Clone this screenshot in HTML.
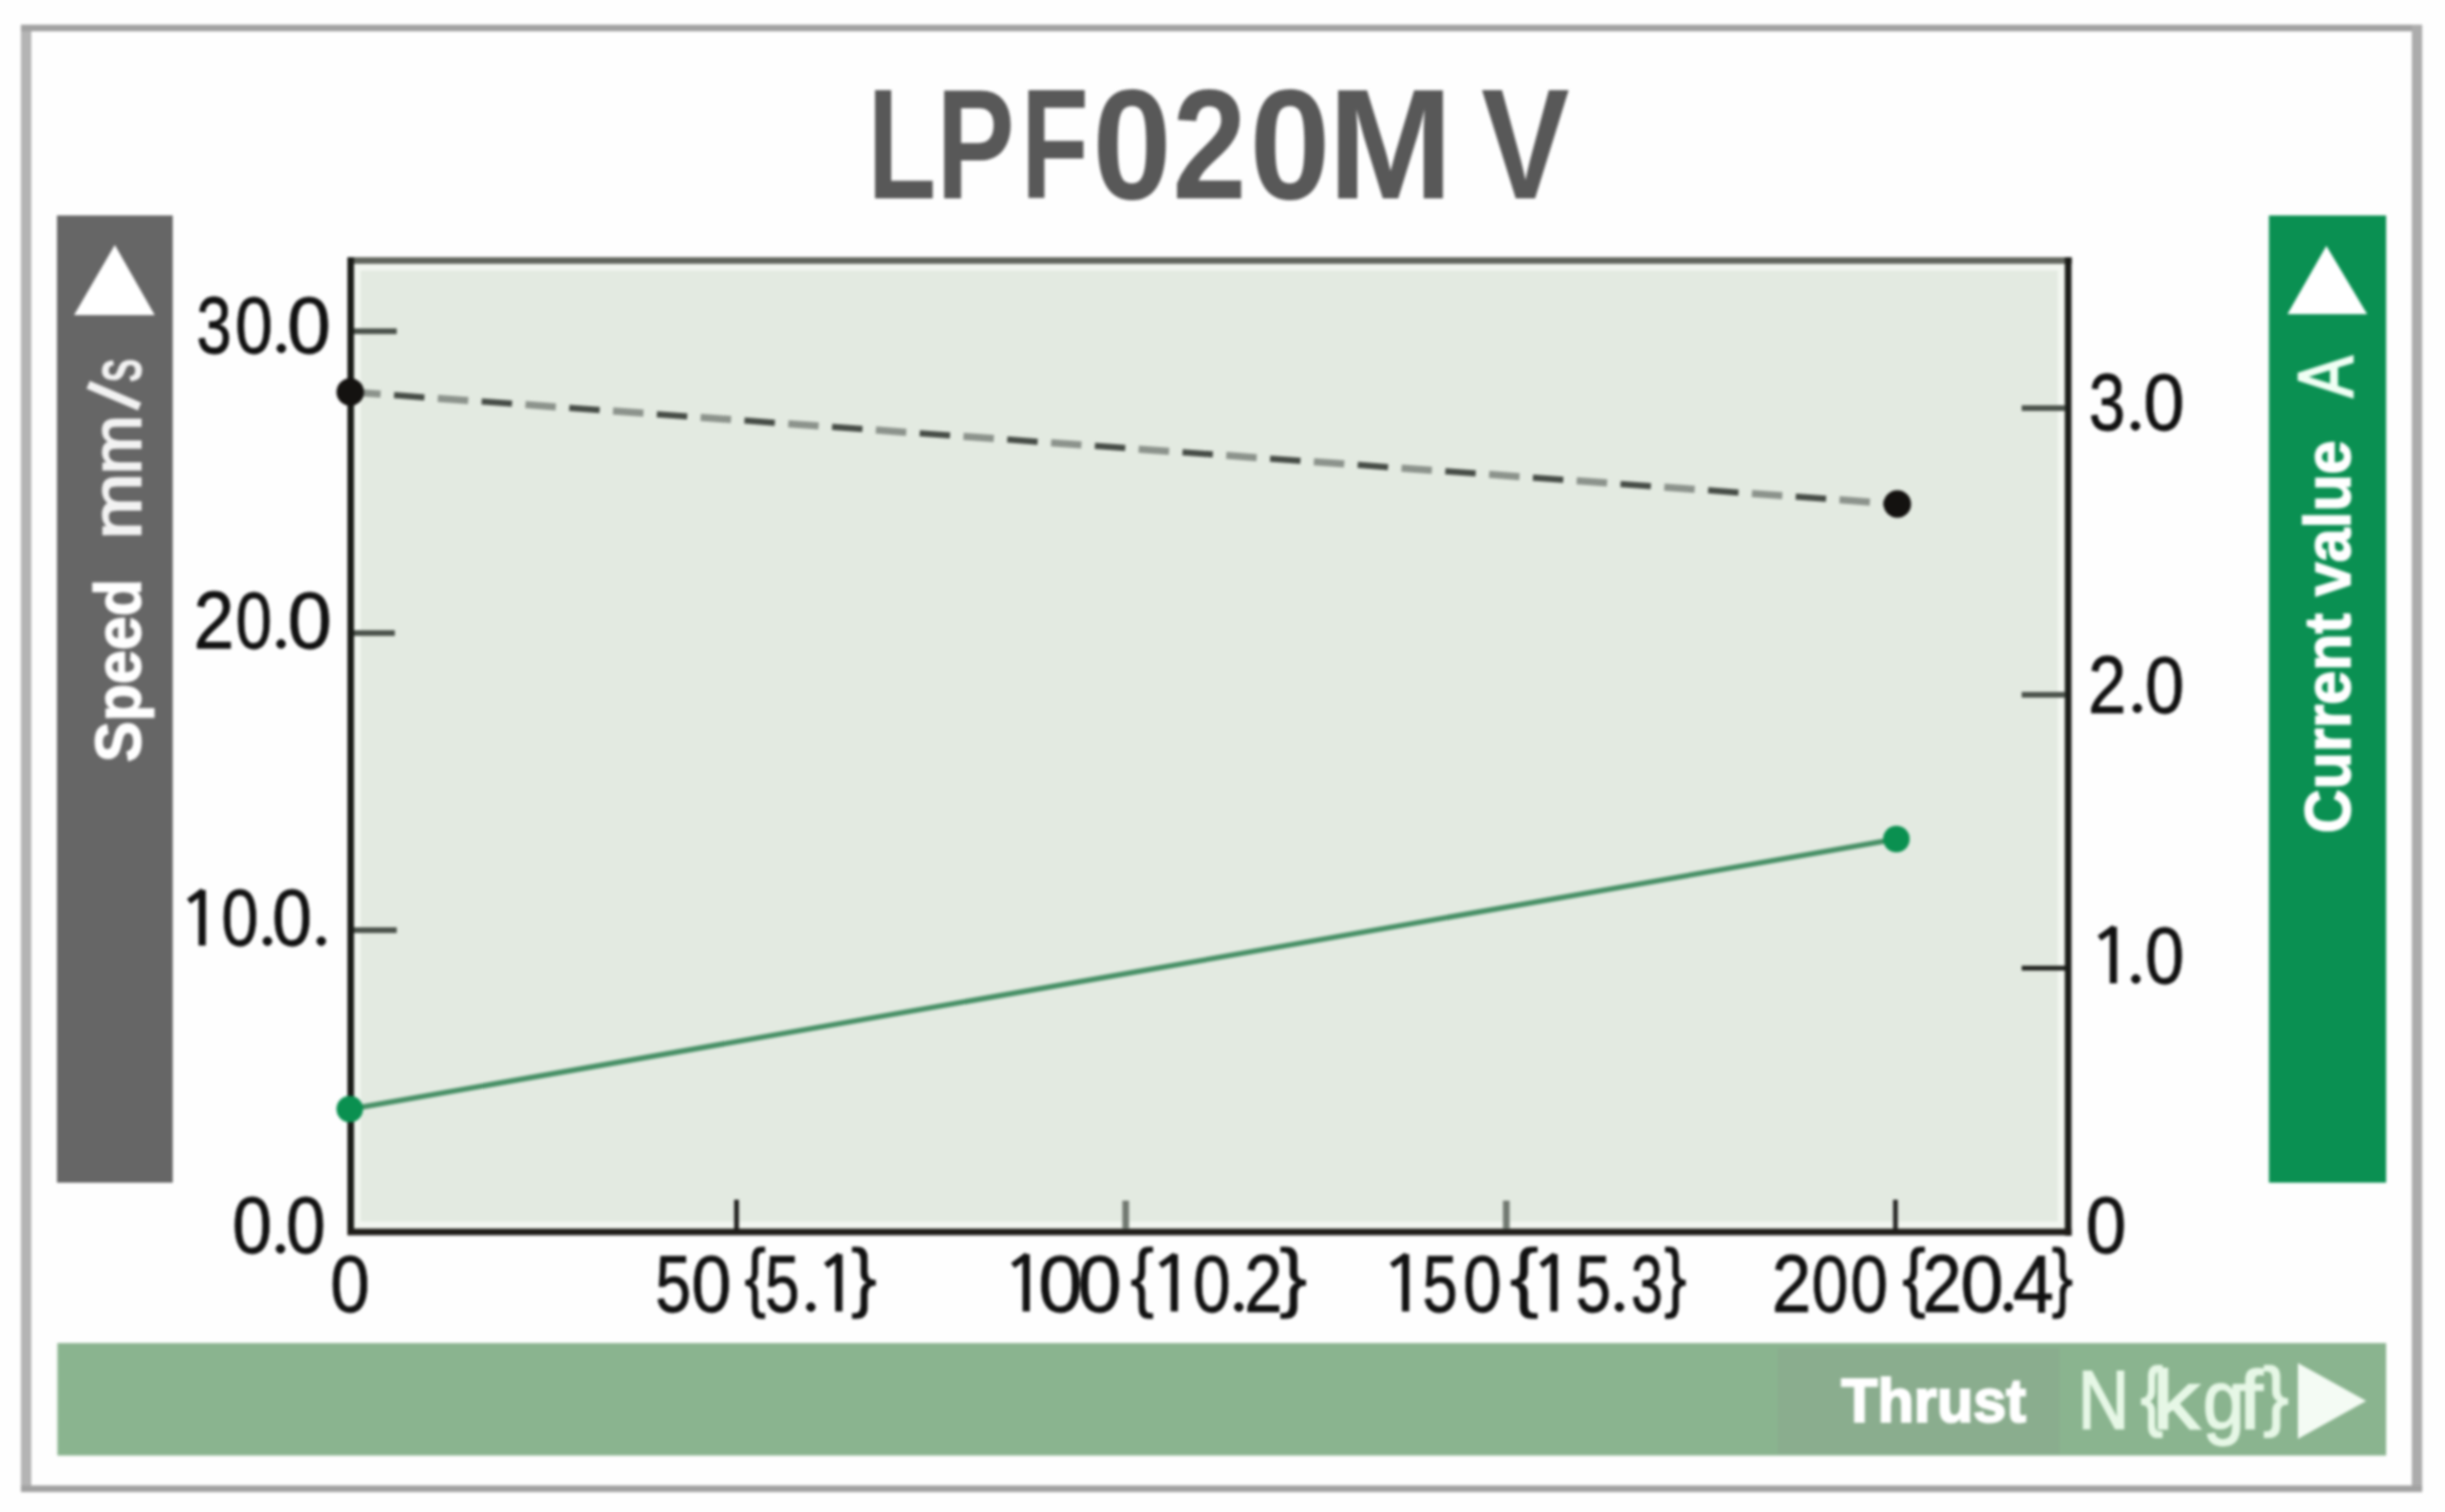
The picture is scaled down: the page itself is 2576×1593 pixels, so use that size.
<!DOCTYPE html>
<html><head><meta charset="utf-8">
<style>
html,body{margin:0;padding:0;background:#fefefe;width:2576px;height:1593px;overflow:hidden;}
svg{display:block;filter:blur(1.5px);}
text{font-family:"Liberation Sans",sans-serif;}
</style></head>
<body>
<svg width="2576" height="1593" viewBox="0 0 2576 1593">
<!-- outer border -->
<rect x="22" y="26" width="11" height="1546" fill="#b4b4b4"/>
<rect x="22" y="26" width="2530" height="7" fill="#a2a2a2"/>
<rect x="2541" y="26" width="11" height="1546" fill="#acacac"/>
<rect x="22" y="1565" width="2530" height="7" fill="#a2a2a2"/>

<!-- title -->
<g font-size="166" font-weight="bold" fill="#585858">
<text x="914.0" y="209.2" textLength="72.3" lengthAdjust="spacingAndGlyphs">L</text>
<text x="986.6" y="209.2" textLength="82.5" lengthAdjust="spacingAndGlyphs">P</text>
<text x="1075.7" y="209.2" textLength="71.3" lengthAdjust="spacingAndGlyphs">F</text>
<text x="1151.0" y="209.2" textLength="83.4" lengthAdjust="spacingAndGlyphs">0</text>
<text x="1235.3" y="209.2" textLength="78.0" lengthAdjust="spacingAndGlyphs">2</text>
<text x="1316.5" y="209.2" textLength="85.2" lengthAdjust="spacingAndGlyphs">0</text>
<text x="1399.3" y="209.2" textLength="131.5" lengthAdjust="spacingAndGlyphs">M</text>
<text x="1560.5" y="209.2" textLength="93.1" lengthAdjust="spacingAndGlyphs">V</text>
</g>

<!-- left bar -->
<rect x="60" y="227" width="122" height="1019" fill="#666666"/>
<polygon points="121,258 78,332 163,332" fill="#ffffff"/>
<!-- right bar -->
<rect x="2390.5" y="227" width="123.5" height="1019" fill="#0a9052"/>
<polygon points="2451,259 2410,331 2494,331" fill="#ffffff"/>

<!-- bottom bar -->
<rect x="60.5" y="1415" width="2453.5" height="118.5" fill="#8ab48f"/>
<rect x="1873" y="1420" width="297" height="112" fill="#8aad8e"/>

<!-- plot -->
<rect x="370" y="274" width="1809" height="1023" fill="#e3eae1"/>
<rect x="376.5" y="281.5" width="1795" height="1009" fill="none" stroke="#f2f6f0" stroke-width="7"/>
<rect x="366" y="271" width="1817" height="7" fill="#62665e"/>
<rect x="366" y="271" width="7" height="1030" fill="#1a1c18"/>
<rect x="2175.5" y="271" width="7" height="1031" fill="#1a1c18"/>
<rect x="366" y="1294.5" width="1816.5" height="7" fill="#1e1c18"/>

<!-- ticks -->
<g stroke="#4b524b" stroke-width="6">
<line x1="373" y1="349" x2="418" y2="349"/>
<line x1="373" y1="667" x2="416" y2="667"/>
<line x1="373" y1="980" x2="418" y2="980"/>
<line x1="2130" y1="430" x2="2176" y2="430"/>
<line x1="2130" y1="732" x2="2176" y2="732"/>
</g>
<line x1="2130" y1="1020" x2="2176" y2="1020" stroke="#1e201c" stroke-width="5"/>
<line x1="776" y1="1264" x2="776" y2="1295" stroke="#1e1e1c" stroke-width="5"/>
<line x1="1186" y1="1265" x2="1186" y2="1295" stroke="#717971" stroke-width="7"/>
<line x1="1587" y1="1265" x2="1587" y2="1295" stroke="#717971" stroke-width="7"/>
<line x1="1997" y1="1264" x2="1997" y2="1295" stroke="#262624" stroke-width="5"/>

<!-- dashed line -->
<line x1="369" y1="413" x2="1999" y2="531" stroke="#8c938c" stroke-width="7.5" stroke-dasharray="32.1 60.44"/>
<line x1="369" y1="413" x2="1999" y2="531" stroke="#464c46" stroke-width="6.5" stroke-dasharray="32.1 60.44" stroke-dashoffset="-46.27"/>
<circle cx="369" cy="413" r="14.5" fill="#141210"/>
<circle cx="1999" cy="531" r="14.5" fill="#141210"/>

<!-- green line -->
<line x1="369" y1="1168.5" x2="1998" y2="884" stroke="#468f65" stroke-width="5.5"/>
<circle cx="368.5" cy="1168.5" r="14" fill="#0a9050"/>
<circle cx="1998" cy="884" r="14" fill="#0a9050"/>

<!-- y labels -->
<g fill="#111111" stroke="#111111" stroke-width="0.9" font-size="86">
<text x="207.1" y="371.6" textLength="37.0" lengthAdjust="spacingAndGlyphs">3</text>
<text x="247.8" y="371.6" textLength="39.6" lengthAdjust="spacingAndGlyphs">0</text>
<circle cx="296.4" cy="367.0" r="4.6"/>
<text x="302.6" y="371.6" textLength="46.0" lengthAdjust="spacingAndGlyphs">0</text>
<text x="204.0" y="683.0" textLength="42.8" lengthAdjust="spacingAndGlyphs">2</text>
<text x="248.2" y="683.0" textLength="38.4" lengthAdjust="spacingAndGlyphs">0</text>
<circle cx="296.1" cy="678.4" r="4.6"/>
<text x="302.9" y="683.0" textLength="46.6" lengthAdjust="spacingAndGlyphs">0</text>
<path d="M213.0 937.7V996.2" stroke-width="7.6" fill="none"/>
<path d="M214.0 938.7L198.9 949.7" stroke-width="6.5" fill="none"/>
<text x="233.2" y="996.2" textLength="39.1" lengthAdjust="spacingAndGlyphs">0</text>
<circle cx="281.7" cy="991.6" r="4.6"/>
<text x="286.8" y="996.2" textLength="41.9" lengthAdjust="spacingAndGlyphs">0</text>
<circle cx="338.5" cy="991.6" r="4.6"/>
<text x="244.7" y="1320.3" textLength="41.8" lengthAdjust="spacingAndGlyphs">0</text>
<circle cx="295.5" cy="1315.7" r="4.6"/>
<text x="301.3" y="1320.3" textLength="41.8" lengthAdjust="spacingAndGlyphs">0</text>
<text x="2200.8" y="453.3" textLength="38.5" lengthAdjust="spacingAndGlyphs">3</text>
<circle cx="2249.8" cy="448.7" r="4.6"/>
<text x="2258.3" y="453.3" textLength="43.3" lengthAdjust="spacingAndGlyphs">0</text>
<text x="2199.9" y="750.8" textLength="40.3" lengthAdjust="spacingAndGlyphs">2</text>
<circle cx="2251.8" cy="746.2" r="4.6"/>
<text x="2260.0" y="750.8" textLength="41.3" lengthAdjust="spacingAndGlyphs">0</text>
<path d="M2226.6 976.4V1036.0" stroke-width="7.6" fill="none"/>
<path d="M2227.6 977.4L2211.9 988.4" stroke-width="6.5" fill="none"/>
<circle cx="2250.3" cy="1031.4" r="4.6"/>
<text x="2260.0" y="1036.0" textLength="41.3" lengthAdjust="spacingAndGlyphs">0</text>
<text x="2197.4" y="1319.5" textLength="42.8" lengthAdjust="spacingAndGlyphs">0</text>
</g>

<g fill="#111111" stroke="#111111" stroke-width="0.9" font-size="86">
<text x="690.4" y="1381.7" textLength="37.6" lengthAdjust="spacingAndGlyphs">5</text>
<text x="728.5" y="1381.7" textLength="42.0" lengthAdjust="spacingAndGlyphs">0</text>
<text x="784.4" y="1372.2" font-size="79" textLength="22.5" lengthAdjust="spacingAndGlyphs">{</text>
<text x="806.0" y="1381.7" textLength="36.4" lengthAdjust="spacingAndGlyphs">5</text>
<circle cx="854.3" cy="1377.1" r="4.6"/>
<path d="M883.8 1321.4V1381.7" stroke-width="7.6" fill="none"/>
<path d="M884.8 1322.4L870.1 1333.4" stroke-width="6.5" fill="none"/>
<text x="896.8" y="1372.2" font-size="79" textLength="26.9" lengthAdjust="spacingAndGlyphs">}</text>
<path d="M1081.2 1321.4V1381.7" stroke-width="7.6" fill="none"/>
<path d="M1082.2 1322.4L1067.1 1333.4" stroke-width="6.5" fill="none"/>
<text x="1093.9" y="1381.7" textLength="46.6" lengthAdjust="spacingAndGlyphs">0</text>
<text x="1135.6" y="1381.7" textLength="46.2" lengthAdjust="spacingAndGlyphs">0</text>
<text x="1191.0" y="1372.2" font-size="79" textLength="24.7" lengthAdjust="spacingAndGlyphs">{</text>
<path d="M1237.2 1321.4V1381.7" stroke-width="7.6" fill="none"/>
<path d="M1238.2 1322.4L1222.5 1333.4" stroke-width="6.5" fill="none"/>
<text x="1256.9" y="1381.7" textLength="39.6" lengthAdjust="spacingAndGlyphs">0</text>
<circle cx="1305.2" cy="1377.1" r="4.6"/>
<text x="1311.0" y="1381.7" textLength="40.3" lengthAdjust="spacingAndGlyphs">2</text>
<text x="1348.1" y="1372.2" font-size="79" textLength="29.1" lengthAdjust="spacingAndGlyphs">}</text>
<path d="M1480.9 1321.4V1381.7" stroke-width="7.6" fill="none"/>
<path d="M1481.9 1322.4L1466.2 1333.4" stroke-width="6.5" fill="none"/>
<text x="1498.7" y="1381.7" textLength="37.0" lengthAdjust="spacingAndGlyphs">5</text>
<text x="1541.5" y="1381.7" textLength="40.7" lengthAdjust="spacingAndGlyphs">0</text>
<text x="1590.8" y="1372.2" font-size="79" textLength="30.3" lengthAdjust="spacingAndGlyphs">{</text>
<path d="M1637.3 1321.4V1381.7" stroke-width="7.6" fill="none"/>
<path d="M1638.3 1322.4L1623.7 1333.4" stroke-width="6.5" fill="none"/>
<text x="1660.3" y="1381.7" textLength="37.0" lengthAdjust="spacingAndGlyphs">5</text>
<circle cx="1706.2" cy="1377.1" r="4.6"/>
<text x="1718.4" y="1381.7" textLength="33.5" lengthAdjust="spacingAndGlyphs">3</text>
<text x="1753.4" y="1372.2" font-size="79" textLength="23.5" lengthAdjust="spacingAndGlyphs">}</text>
<text x="1866.7" y="1381.7" textLength="41.6" lengthAdjust="spacingAndGlyphs">2</text>
<text x="1908.7" y="1381.7" textLength="38.5" lengthAdjust="spacingAndGlyphs">0</text>
<text x="1949.5" y="1381.7" textLength="39.6" lengthAdjust="spacingAndGlyphs">0</text>
<text x="2004.3" y="1372.2" font-size="79" textLength="24.7" lengthAdjust="spacingAndGlyphs">{</text>
<text x="2025.2" y="1381.7" textLength="41.6" lengthAdjust="spacingAndGlyphs">2</text>
<text x="2065.6" y="1381.7" textLength="45.4" lengthAdjust="spacingAndGlyphs">0</text>
<circle cx="2115.9" cy="1377.1" r="4.6"/>
<text x="2120.8" y="1381.7" textLength="43.2" lengthAdjust="spacingAndGlyphs">4</text>
<text x="2161.7" y="1372.2" font-size="79" textLength="22.4" lengthAdjust="spacingAndGlyphs">}</text>
<text x="347.9" y="1381.7" textLength="41.6" lengthAdjust="spacingAndGlyphs">0</text>
</g>
<!-- bottom bar text -->
<text x="1940" y="1498" font-size="64" font-weight="bold" fill="#ffffff" stroke="#ffffff" stroke-width="2.2" textLength="194.5" lengthAdjust="spacingAndGlyphs">Thrust</text>
<g fill="#e6f7e6" stroke="#e6f7e6" stroke-width="2">
<text x="2189.3" y="1504.5" font-size="88" textLength="54.1" lengthAdjust="spacingAndGlyphs">N</text>
<text x="2255.6" y="1496.5" font-size="80" textLength="23.3" lengthAdjust="spacingAndGlyphs">{</text>
<text x="2267.8" y="1504.5" font-size="88" textLength="49.9" lengthAdjust="spacingAndGlyphs">k</text>
<text x="2321.0" y="1504.5" font-size="88" textLength="43.7" lengthAdjust="spacingAndGlyphs">g</text>
<text x="2358.4" y="1504.5" font-size="88" textLength="25.5" lengthAdjust="spacingAndGlyphs">f</text>
<text x="2384.8" y="1496.5" font-size="80" textLength="26.4" lengthAdjust="spacingAndGlyphs">}</text>
</g>
<polygon points="2421,1436 2421,1516 2493,1476" fill="#f4fbf4"/>

<!-- rotated texts -->
<text transform="translate(148,803) rotate(-90)" font-size="68" font-weight="bold" fill="#ffffff" stroke="#ffffff" stroke-width="1.6" textLength="193.2" lengthAdjust="spacingAndGlyphs">Speed</text>
<g fill="#f2f2f2" stroke="#f2f2f2" stroke-width="2.2" font-size="74">
<text transform="translate(148.1,568.3) rotate(-90)" textLength="69.9" lengthAdjust="spacingAndGlyphs">m</text>
<text transform="translate(148.1,499.7) rotate(-90)" textLength="62.5" lengthAdjust="spacingAndGlyphs">m</text>
<text transform="translate(148.1,402.2) rotate(-90)" textLength="24.0" lengthAdjust="spacingAndGlyphs">s</text>
</g>
<line x1="92.9" y1="405.4" x2="147.1" y2="428.3" stroke="#f2f2f2" stroke-width="9"/>
<text transform="translate(2475.6,878) rotate(-90)" font-size="68" font-weight="bold" fill="#ffffff" stroke="#ffffff" stroke-width="1.6" textLength="414.1" lengthAdjust="spacingAndGlyphs">Current value</text>
<text transform="translate(2477.5,418.8) rotate(-90)" font-size="82" fill="#f0fff4" stroke="#f0fff4" stroke-width="2.4" textLength="43.5" lengthAdjust="spacingAndGlyphs">A</text>
</svg>
</body></html>
